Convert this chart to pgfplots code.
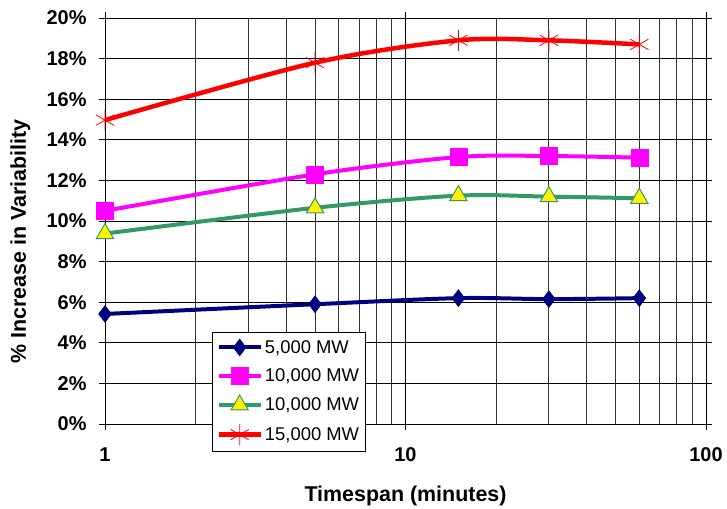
\documentclass[border=0pt]{standalone}
\usepackage{pgfplots}
\pgfplotsset{compat=1.18}
\usepackage{fontspec}
\setmainfont{Liberation Sans}
\definecolor{navyb}{RGB}{0,0,128}
\definecolor{magb}{RGB}{255,0,255}
\definecolor{grnb}{RGB}{51,153,102}
\begin{document}
\begin{tikzpicture}
\begin{axis}[name=ax,
  scale only axis, width=601bp, height=406bp,
  xmode=log, xmin=1, xmax=100, ymin=0, ymax=20,
  log basis x=10,
  xtick={1,10,100}, xticklabels={\textbf{1},\textbf{10},\textbf{100}},
  minor xtick={2,3,4,5,6,7,8,9,20,30,40,50,60,70,80,90},
  ytick={0,2,...,20},
  yticklabel={\textbf{\pgfmathprintnumber{\tick}\%}},
  /pgf/number format/assume math mode=true,
  tick label style={font=\fontsize{20}{22}\selectfont},
  xticklabel style={yshift=-14bp},
  yticklabel style={xshift=-9bp},
  grid=both,
  major grid style={black, line width=0.9pt},
  minor grid style={black!80, line width=0.8pt},
  tick align=outside, major tick length=6bp, minor tick length=0pt,
  tick style={black, line width=0.8pt},
  axis line style={black, line width=0.9pt},
  xlabel={\textbf{Timespan (minutes)}},
  ylabel={\textbf{\% Increase in Variability}},
  label style={font=\fontsize{21.5}{24}\selectfont},
  xlabel style={yshift=-18bp},
  ylabel style={at={(axis description cs:-0.141,0.45)}, anchor=center},
  legend style={at={(0.178,0.227)}, anchor=north west, draw=black, line width=0.9pt,
    font=\fontsize{18.5}{20}\selectfont, row sep=10bp, inner xsep=4bp, inner ysep=6bp, fill=white},
  legend cell align=left,
  legend image code/.code={\draw[mark repeat=2,mark phase=2,#1] plot coordinates {(0bp,0bp) (21bp,0bp) (42bp,0bp)};},
]
\addplot[navyb, line width=4pt, smooth, mark=diamond*, mark size=8.5bp, mark options={solid, line width=0.5pt}] coordinates {(1,5.42) (5,5.9) (15,6.2) (30,6.15) (60,6.2)};
\addlegendentry{5,000 MW}
\addplot[magb, line width=4pt, smooth, mark=square*, mark size=8.5bp, mark options={solid, line width=0.5pt}] coordinates {(1,10.5) (5,12.3) (15,13.15) (30,13.2) (60,13.12)};
\addlegendentry{10,000 MW}
\addplot[grnb, line width=4pt, smooth, mark=triangle*, mark size=10bp, mark options={solid, fill=yellow, draw=grnb, line width=1pt}] coordinates {(1,9.38) (5,10.65) (15,11.25) (30,11.2) (60,11.12)};
\addlegendentry{10,000 MW}
\addplot[red, line width=4.5pt, smooth, mark=asterisk, mark size=10.5bp, mark options={solid, line width=0.8pt}] coordinates {(1,14.97) (5,17.8) (15,18.9) (30,18.9) (60,18.7)};
\addlegendentry{15,000 MW}
\end{axis}
\pgfresetboundingbox
\path (ax.south west) ++(-105bp,-85bp) rectangle ([shift={(21bp,18bp)}]ax.north east);
\end{tikzpicture}
\end{document}
